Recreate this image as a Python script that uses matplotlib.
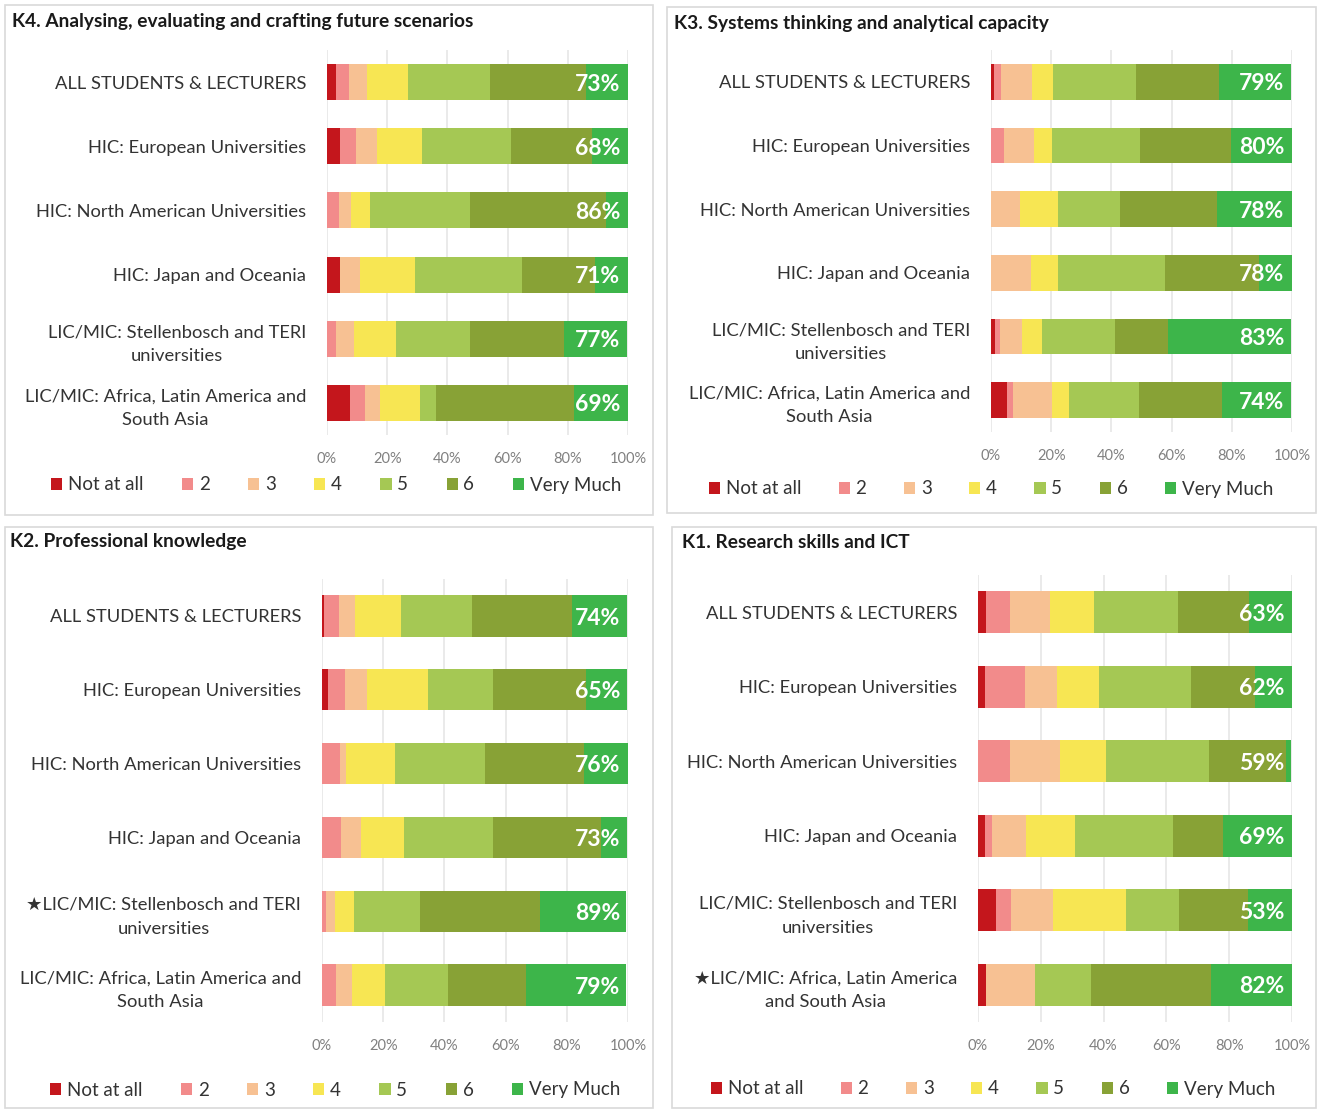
import numpy as np
import matplotlib.pyplot as plt
from matplotlib.patches import Rectangle, Patch

plt.rcParams['font.family'] = ['Lato', 'DejaVu Sans']

# Escala de respuesta (1 = Not at all ... 7 = Very Much)
niveles = ['Not at all', '2', '3', '4', '5', '6', 'Very Much']
colores = ['#c4161c', '#f28b8b', '#f7c193', '#f7e653', '#a5c854', '#88a236', '#3db54a']

grupos_base = ['ALL STUDENTS & LECTURERS',
               'HIC: European Universities',
               'HIC: North American Universities',
               'HIC: Japan and Oceania',
               'LIC/MIC: Stellenbosch and TERI\nuniversities',
               'LIC/MIC: Africa, Latin America and\nSouth Asia']

grupos_k2 = grupos_base[:4] + ['\u2605LIC/MIC: Stellenbosch and TERI\nuniversities',
                               grupos_base[5]]
grupos_k1 = grupos_base[:5] + ['\u2605LIC/MIC: Africa, Latin America\nand South Asia']

# Porcentajes por grupo (filas) y nivel (columnas)
k4 = [[3.1, 4.1, 6.1, 13.6, 27.1, 32.1, 13.8],
      [4.4, 5.3, 6.9, 15.1, 29.3, 27.2, 11.8],
      [0.0, 3.9, 4.2, 6.3, 33.2, 45.0, 7.8],
      [4.4, 0.0, 6.5, 18.2, 35.8, 24.0, 11.2],
      [0.0, 2.9, 6.1, 13.8, 24.6, 31.2, 21.2],
      [7.5, 5.0, 5.0, 13.5, 5.2, 45.8, 18.0]]
k4_pct = [73, 68, 86, 71, 77, 69]

k3 = [[1.1, 2.2, 10.2, 7.2, 27.4, 27.6, 24.0],
      [0.0, 4.4, 9.9, 5.8, 29.4, 30.2, 20.4],
      [0.0, 0.0, 9.8, 12.3, 20.8, 32.2, 25.0],
      [0.0, 0.0, 13.2, 8.9, 35.8, 31.1, 11.1],
      [1.3, 1.7, 7.2, 6.6, 24.4, 17.6, 41.0],
      [5.2, 2.2, 12.8, 5.6, 23.4, 27.7, 22.9]]
k3_pct = [79, 80, 78, 78, 83, 74]

k2 = [[0.7, 4.7, 5.5, 14.9, 23.1, 32.8, 18.1],
      [2.0, 5.6, 7.2, 19.8, 21.2, 30.6, 13.2],
      [0.0, 5.8, 2.2, 16.0, 29.2, 32.4, 14.4],
      [0.0, 6.1, 6.8, 13.9, 29.1, 35.2, 8.7],
      [0.0, 1.2, 2.9, 6.4, 21.4, 39.4, 28.2],
      [0.0, 4.7, 5.1, 10.7, 20.7, 25.6, 32.7]]
k2_pct = [74, 65, 76, 73, 89, 79]

k1 = [[2.4, 7.9, 12.5, 14.2, 26.6, 22.6, 13.8],
      [2.3, 12.8, 10.0, 13.3, 29.5, 20.4, 11.7],
      [0.0, 10.1, 16.1, 14.6, 32.9, 24.3, 1.8],
      [2.1, 2.4, 10.9, 15.6, 31.1, 15.8, 22.1],
      [5.8, 4.8, 13.3, 23.1, 16.9, 22.0, 14.1],
      [2.4, 0.0, 15.6, 0.0, 18.1, 38.1, 25.8]]
k1_pct = [63, 62, 59, 69, 53, 82]

W, H = 1321, 1111
fig = plt.figure(figsize=(W / 100, H / 100), dpi=100)


def caja(x0, y0, x1, y1):
    fig.patches.append(Rectangle((x0 / W, 1 - y1 / H), (x1 - x0) / W, (y1 - y0) / H,
                                 transform=fig.transFigure, fill=False,
                                 edgecolor='#d9d9d9', linewidth=1.2))


def panel(datos, pct, grupos, titulo, ejes, caja_xy, titulo_xy, leyenda_xy, colsep):
    x0, x1, y0, y1 = ejes
    ax = fig.add_axes([x0 / W, 1 - y1 / H, (x1 - x0) / W, (y1 - y0) / H])
    datos = np.array(datos)
    y = np.arange(len(grupos))
    izq = np.zeros(len(grupos))
    for j in range(len(niveles)):
        ax.barh(y, datos[:, j], left=izq, height=0.56, color=colores[j], zorder=3)
        izq += datos[:, j]
    for i, p in enumerate(pct):
        ax.text(97.5, y[i] + 0.03, f'{p}%', ha='right', va='center', color='white',
                fontsize=16.5, fontweight='bold', zorder=4)
    ax.set_xlim(0, 100)
    ax.set_ylim(len(grupos) - 0.5, -0.5)
    ax.set_yticks(y)
    ax.set_yticklabels(grupos, fontsize=13.2, color='#333333',
                       multialignment='center', linespacing=1.6)
    ax.set_xticks(np.arange(0, 101, 20))
    ax.set_xticklabels([f'{v}%' for v in range(0, 101, 20)], fontsize=10.5, color='#808080')
    ax.tick_params(axis='y', length=0, pad=15)
    ax.tick_params(axis='x', length=0, pad=12)
    ax.grid(axis='x', color='#e6e6e6', linewidth=1.2, zorder=0)
    for s in ax.spines.values():
        s.set_visible(False)

    caja(*caja_xy)
    fig.text(titulo_xy[0] / W, 1 - titulo_xy[1] / H, titulo, fontsize=13.8,
             fontweight='bold', ha='left', va='center', color='#1a1a1a')
    manijas = [Patch(facecolor=c) for c in colores]
    fig.legend(manijas, niveles, loc='center', ncol=7, frameon=False,
               bbox_to_anchor=(leyenda_xy[0] / W, 1 - leyenda_xy[1] / H),
               fontsize=13.5, handlelength=0.6, handleheight=0.6,
               handletextpad=0.3, columnspacing=colsep, labelcolor='#333333')


panel(k4, k4_pct, grupos_base, 'K4. Analysing, evaluating and crafting future scenarios',
      (327, 628, 50, 435), (5, 5, 653, 515), (12, 21), (336, 485), 2.05)
panel(k3, k3_pct, grupos_base, 'K3. Systems thinking and analytical capacity',
      (991, 1292, 50, 432), (667, 7, 1316, 513), (674, 23), (991, 489), 2.0)
panel(k2, k2_pct, grupos_k2, 'K2. Professional knowledge',
      (322, 628, 579, 1022), (5, 527, 653, 1108), (10, 542), (335, 1090), 2.05)
panel(k1, k1_pct, grupos_k1, 'K1. Research skills and ICT',
      (978, 1292, 575, 1022), (672, 527, 1316, 1108), (682, 542), (993, 1089), 2.0)

fig.savefig('out.png', dpi=100, facecolor='white')
